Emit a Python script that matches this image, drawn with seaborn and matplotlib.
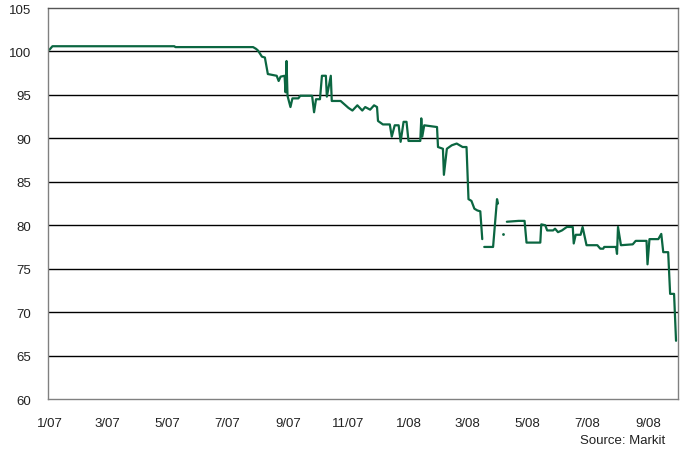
import numpy as np
import pandas as pd
import matplotlib
matplotlib.use("Agg")
import matplotlib.pyplot as plt
import matplotlib.dates as mdates
import seaborn as sns

dates = [
    "2007-01-01", "2007-01-04", "2007-05-08", "2007-05-09", "2007-07-27", "2007-07-30",
    "2007-08-01", "2007-08-05", "2007-08-08", "2007-08-11", "2007-08-20", "2007-08-22",
    "2007-08-24", "2007-08-28", "2007-08-29", "2007-08-30", "2007-08-31", "2007-09-03",
    "2007-09-05", "2007-09-11", "2007-09-13", "2007-09-25", "2007-09-27", "2007-09-29",
    "2007-10-03", "2007-10-05", "2007-10-09", "2007-10-10", "2007-10-14", "2007-10-15",
    "2007-10-24", "2007-10-29", "2007-11-01", "2007-11-05", "2007-11-10", "2007-11-15",
    "2007-11-18", "2007-11-23", "2007-11-27", "2007-11-30", "2007-12-01", "2007-12-06",
    "2007-12-13", "2007-12-15", "2007-12-18", "2007-12-22", "2007-12-24", "2007-12-27",
    "2007-12-30", "2008-01-01", "2008-01-13", "2008-01-14", "2008-01-15", "2008-01-17",
    "2008-01-30", "2008-01-31", "2008-02-05", "2008-02-06", "2008-02-09", "2008-02-14",
    "2008-02-19", "2008-02-25", "2008-02-29", "2008-03-02", "2008-03-05", "2008-03-08",
    "2008-03-11", "2008-03-14", "2008-03-16", "2008-03-17", "2008-03-18", "2008-03-27",
    "2008-03-31", "2008-04-01", "2008-04-03", "2008-04-06", "2008-04-08", "2008-04-10",
    "2008-04-22", "2008-04-28", "2008-04-30", "2008-05-14", "2008-05-15", "2008-05-19",
    "2008-05-21", "2008-05-27", "2008-05-29", "2008-06-01", "2008-06-05", "2008-06-10",
    "2008-06-16", "2008-06-17", "2008-06-19", "2008-06-24", "2008-06-26", "2008-06-30",
    "2008-07-11", "2008-07-14", "2008-07-17", "2008-07-18", "2008-07-30", "2008-07-31",
    "2008-08-01", "2008-08-04", "2008-08-16", "2008-08-19", "2008-08-30", "2008-08-31",
    "2008-09-02", "2008-09-11", "2008-09-14", "2008-09-16", "2008-09-21", "2008-09-23",
    "2008-09-27", "2008-09-29",
]
values = [
    100.2, 100.6, 100.6, 100.5, 100.5, 100.3,
    100.1, 99.4, 99.3, 97.4, 97.2, 96.6,
    97.1, 97.2, 95.3, 98.9, 94.9, 93.6,
    94.6, 94.6, 94.9, 94.9, 93.0, 94.5,
    94.5, 97.2, 97.2, 94.8, 97.2, 94.3,
    94.3, 93.8, 93.5, 93.2, 93.8, 93.2,
    93.6, 93.3, 93.8, 93.6, 92.0, 91.6,
    91.6, 90.2, 91.5, 91.5, 89.6, 91.9,
    91.9, 89.7, 89.7, 92.3, 90.2, 91.5,
    91.3, 89.0, 88.8, 85.8, 88.8, 89.2,
    89.4, 89.0, 89.0, 83.0, 82.8, 81.9,
    81.7, 81.6, 78.4, np.nan, 77.5, 77.5,
    83.0, 82.5, np.nan, 79.0, np.nan, 80.4,
    80.5, 80.5, 78.0, 78.0, 80.1, 80.0,
    79.4, 79.4, 79.6, 79.2, 79.4, 79.8,
    79.8, 77.9, 78.9, 78.9, 79.8, 77.7,
    77.7, 77.3, 77.3, 77.5, 77.5, 76.7,
    79.8, 77.7, 77.8, 78.2, 78.2, 75.5,
    78.4, 78.4, 79.0, 76.9, 76.9, 72.1,
    72.1, 66.7,
]
y_ticks = [60, 65, 70, 75, 80, 85, 90, 95, 100, 105]
x_tick_dates = ["2007-01-01", "2007-03-01", "2007-05-01", "2007-07-01", "2007-09-01",
                "2007-11-01", "2008-01-01", "2008-03-01", "2008-05-01", "2008-07-01",
                "2008-09-01"]
x_tick_labels = ["1/07", "3/07", "5/07", "7/07", "9/07", "11/07", "1/08", "3/08",
                 "5/08", "7/08", "9/08"]

df = pd.DataFrame({"date": pd.to_datetime(dates), "value": values})
df["seg"] = df["value"].isna().cumsum()
clean = df.dropna()
seg_sizes = clean.groupby("seg")["value"].transform("size")
lines = clean[seg_sizes > 1]
dots = clean[seg_sizes == 1]

sns.set_theme(style="white")
plt.rcParams["font.family"] = ["Liberation Sans", "DejaVu Sans"]

fig = plt.figure(figsize=(6.81, 4.56), dpi=100)
ax = fig.add_axes([48 / 681, 1 - 400 / 456, 630 / 681, 391 / 456])

green = "#0b6641"
sns.lineplot(data=lines, x="date", y="value", units="seg", estimator=None,
             color=green, linewidth=1.6, ax=ax)
sns.scatterplot(data=dots, x="date", y="value", color=green, s=4,
                edgecolor=green, linewidth=0, ax=ax)

ax.set_ylim(60, 105)
ax.set_xlim(pd.Timestamp("2006-12-30 12:00"), pd.Timestamp("2008-10-01"))
ax.set_yticks(y_ticks)
ax.set_yticklabels([str(t) for t in y_ticks])
ax.set_xticks(pd.to_datetime(x_tick_dates))
ax.set_xticklabels(x_tick_labels)
ax.set_xlabel("")
ax.set_ylabel("")
for t in y_ticks[1:-1]:
    ax.axhline(t, color="black", linewidth=1.0, zorder=0.5)
for side in ["left", "right", "top", "bottom"]:
    ax.spines[side].set_visible(True)
    ax.spines[side].set_color("#808080")
    ax.spines[side].set_linewidth(1.0)
ax.spines["top"].set_color("#555555")
ax.tick_params(axis="both", length=0, labelsize=9.5, colors="#222222")
ax.tick_params(axis="y", pad=12)
ax.tick_params(axis="x", pad=13)

fig.text(665 / 681, 1 - 441 / 456, "Source: Markit", ha="right", va="center",
         fontsize=9.5, color="#222222")

fig.savefig("out.png", dpi=100, facecolor="white")
